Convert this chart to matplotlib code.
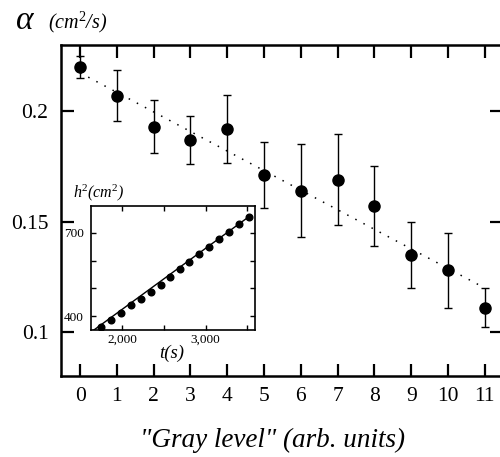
import numpy as np
import matplotlib
matplotlib.use("Agg")
import matplotlib.pyplot as plt

plt.rcParams['font.family'] = ['Liberation Serif', 'DejaVu Serif']
plt.rcParams['mathtext.fontset'] = 'custom'
plt.rcParams['mathtext.rm'] = 'Liberation Serif'
plt.rcParams['mathtext.it'] = 'Liberation Serif:italic'

# main data: diffusion coefficient vs gray level
gray = [0, 1, 2, 3, 4, 5, 6, 7, 8, 9, 10, 11]
alpha = [0.220, 0.207, 0.193, 0.187, 0.192, 0.171, 0.164, 0.169, 0.157, 0.135, 0.128, 0.111]
alpha_err = [0.005, 0.0115, 0.012, 0.011, 0.0155, 0.015, 0.021, 0.0205, 0.018, 0.015, 0.017, 0.009]
# dotted linear fit (end points)
fit_x = [0, 11]
fit_y = [0.2174, 0.1199]

# inset: h^2 vs t
t_s = [1740, 1860, 1980, 2100, 2220, 2340, 2460, 2570, 2690, 2800, 2920, 3040, 3160, 3280, 3400, 3520]
h2 = [363, 387, 412, 439, 462, 486, 512, 540, 570, 596, 622, 649, 677, 703, 730, 758]
inset_fit_t = [1600, 3520]
inset_fit_h = [338, 758]

fig = plt.figure(figsize=(5.0, 4.57), dpi=100)
ax = fig.add_axes([0.122, 0.1772, 0.882, 0.7243])

ax.plot(fit_x, fit_y, color='black', lw=1.1, linestyle=(0, (1, 5)))
ax.errorbar(gray, alpha, yerr=alpha_err, fmt='o', color='black', ms=8,
            elinewidth=1.0, capsize=3, capthick=1.0)

ax.set_xlim(-0.52, 11.47)
ax.set_ylim(0.08, 0.23)
ax.set_xticks(gray)
ax.set_yticks([0.1, 0.15, 0.2])
ax.set_yticklabels(['0.1', '0.15', '0.2'])
for s in ax.spines.values():
    s.set_linewidth(1.8)
ax.tick_params(direction='in', length=9, width=1.6, top=True, right=True,
               labelsize=15.5)
ax.tick_params(axis='x', pad=8)
ax.tick_params(axis='y', pad=9)

ax.set_xlabel('"Gray level" (arb. units)', fontsize=19.5, style='italic')
ax.xaxis.set_label_coords(0.48, -0.158)
fig.text(0.03, 0.955, r'$\alpha$', fontsize=24, va='center', ha='left')
fig.text(0.096, 0.951, r'(cm$^2$/s)', fontsize=14.5, style='italic',
         va='center', ha='left')

# inset
axi = fig.add_axes([0.1814, 0.2779, 0.3286, 0.272])
axi.plot(inset_fit_t, inset_fit_h, color='black', lw=1.0)
axi.plot(t_s, h2, 'o', color='black', ms=4.8)
axi.set_xlim(1621, 3591)
axi.set_ylim(351, 797)
axi.set_xticks([2000, 2500, 3000, 3500])
axi.set_xticklabels(['2,000', '', '3,000', ''])
axi.set_yticks([400, 500, 600, 700])
axi.set_yticklabels(['400', '', '', '700'])
for s in axi.spines.values():
    s.set_linewidth(1.2)
axi.tick_params(direction='in', length=3.5, width=1.0, top=True, right=True,
                labelsize=9.5, pad=3)
axi.tick_params(axis='y', pad=5)
axi.text(-0.11, 1.02, r'h$^2$(cm$^2$)', transform=axi.transAxes, fontsize=11.5,
         style='italic', ha='left', va='bottom')
axi.text(0.49, -0.12, 't(s)', transform=axi.transAxes, fontsize=13.5,
         style='italic', ha='center', va='top')

fig.savefig('out.png', dpi=100)
